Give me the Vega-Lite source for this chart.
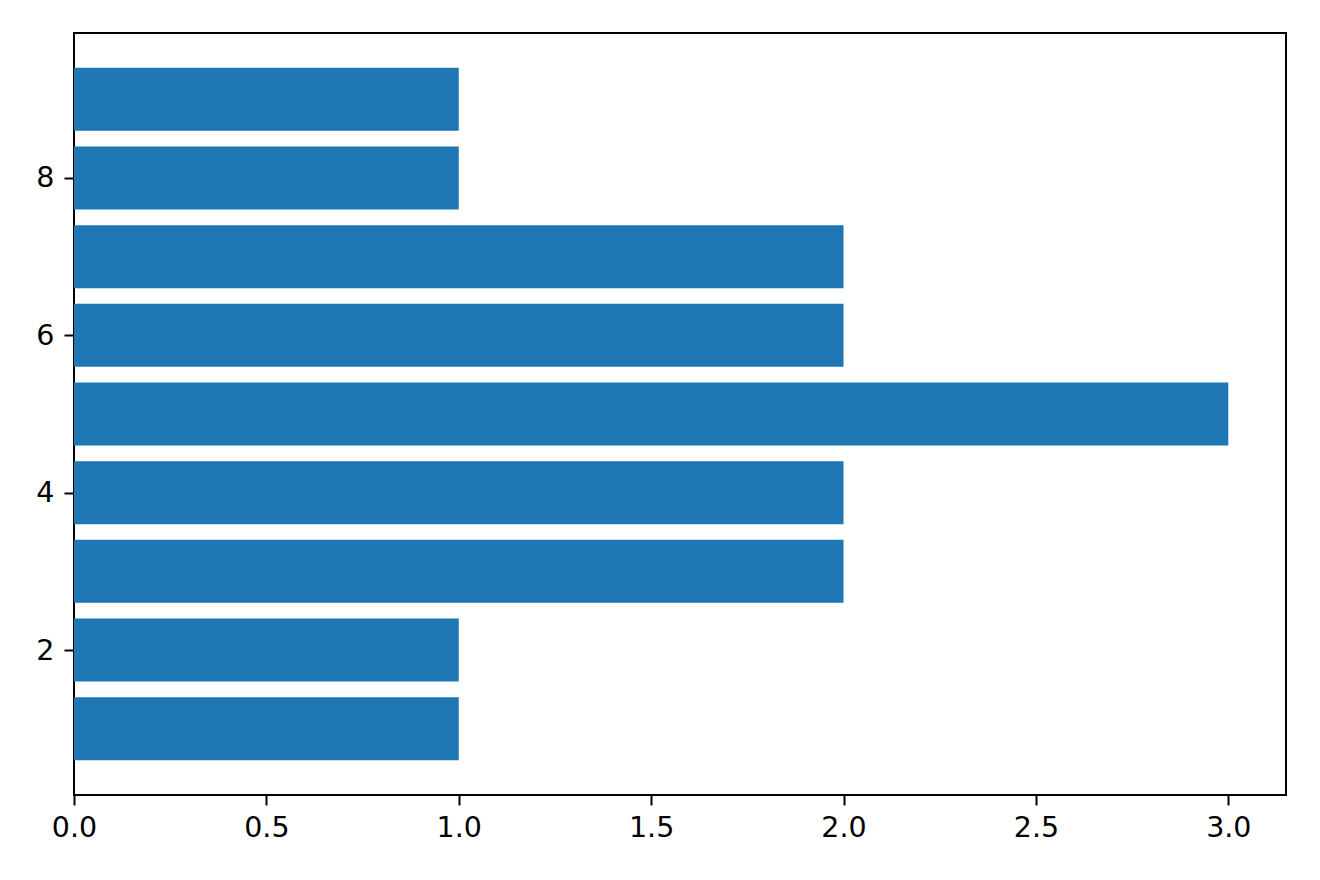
{
  "$schema": "https://vega.github.io/schema/vega-lite/v6.json",
  "width": 1212,
  "height": 762,
  "autosize": {"type": "none"},
  "padding": {"left": 74, "top": 33, "right": 34, "bottom": 85},
  "background": "white",
  "config": {
    "view": {"stroke": "black", "strokeWidth": 2},
    "font": "DejaVu Sans",
    "axis": {
      "grid": false,
      "domain": false,
      "ticks": true,
      "tickColor": "black",
      "tickWidth": 2,
      "tickSize": 10,
      "labelFont": "DejaVu Sans",
      "labelFontSize": 28.5,
      "labelColor": "black",
      "title": null
    }
  },
  "data": {
    "values": [
      {"y": 1, "v": 1},
      {"y": 2, "v": 1},
      {"y": 3, "v": 2},
      {"y": 4, "v": 2},
      {"y": 5, "v": 3},
      {"y": 6, "v": 2},
      {"y": 7, "v": 2},
      {"y": 8, "v": 1},
      {"y": 9, "v": 1}
    ]
  },
  "mark": {"type": "bar", "color": "#1f77b4", "height": 63, "orient": "horizontal"},
  "encoding": {
    "y": {
      "field": "y",
      "type": "quantitative",
      "scale": {"domain": [0.157, 9.843], "nice": false, "zero": false, "padding": 0},
      "axis": {"values": [2, 4, 6, 8], "format": "d", "labelFlush": false, "labelFontSize": 28.5, "labelPadding": 10}
    },
    "x": {
      "field": "v",
      "type": "quantitative",
      "scale": {"domain": [0, 3.15], "nice": false, "padding": 0},
      "axis": {"values": [0, 0.5, 1, 1.5, 2, 2.5, 3], "format": ".1f", "labelFlush": false, "labelFontSize": 28.5, "labelPadding": 8}
    }
  }
}
